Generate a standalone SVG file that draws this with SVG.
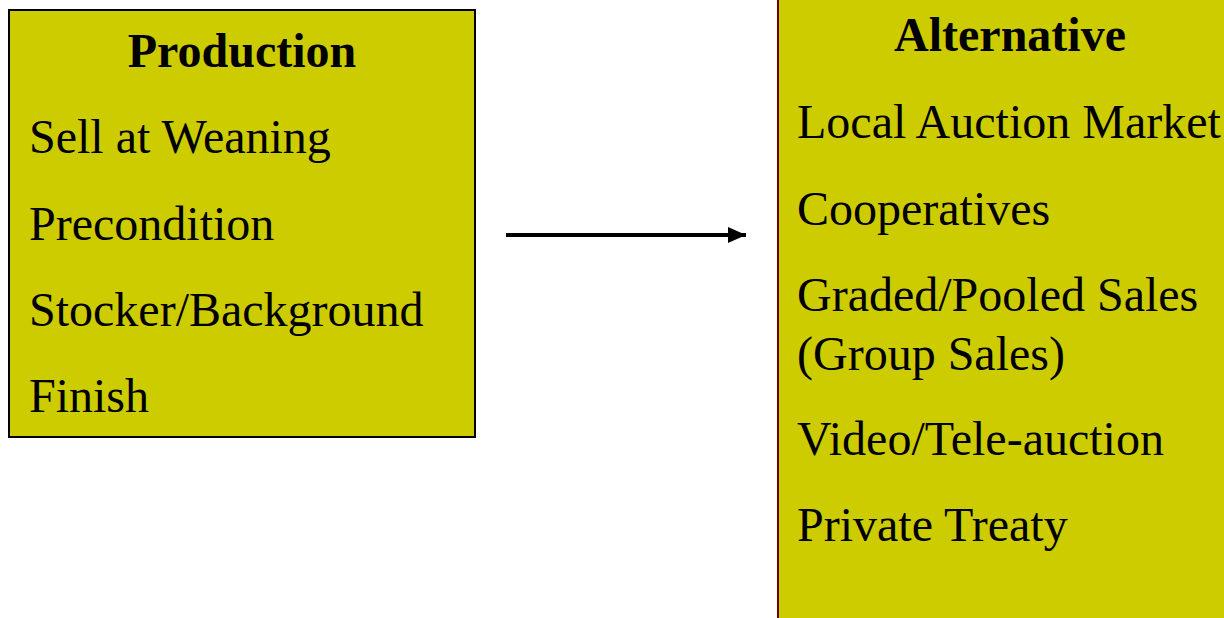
<svg xmlns="http://www.w3.org/2000/svg" width="1224" height="618" viewBox="0 0 1224 618">
  <style>
    .box { fill: #CCCC00; }
    .t { font-family: "Liberation Serif", "Times New Roman", serif; font-size: 48px; fill: #000; }
    .h { font-weight: bold; text-anchor: middle; }
  </style>
  <defs>
    <marker id="ah" markerUnits="userSpaceOnUse" markerWidth="20" markerHeight="20" refX="18" refY="9" orient="auto">
      <path d="M0,1 L18,9 L0,17 Z" fill="#000"/>
    </marker>
  </defs>
  <rect width="1224" height="618" fill="#fff"/>
  <g id="production">
    <rect class="box" x="9" y="10" width="466" height="427" stroke="#000" stroke-width="2"/>
    <text class="t h" x="242" y="67">Production</text>
    <text class="t" x="29" y="153">Sell at Weaning</text>
    <text class="t" x="29" y="240">Precondition</text>
    <text class="t" x="29" y="326">Stocker/Background</text>
    <text class="t" x="29" y="412">Finish</text>
  </g>
  <g id="alternative">
    <rect class="box" x="778" y="-5" width="460" height="630" stroke="#660000" stroke-width="2"/>
    <text class="t h" x="1010" y="51">Alternative</text>
    <text class="t" x="797" y="138">Local Auction Market</text>
    <text class="t" x="797" y="225">Cooperatives</text>
    <text class="t" x="797" y="311">Graded/Pooled Sales</text>
    <text class="t" x="797" y="370">(Group Sales)</text>
    <text class="t" x="797" y="455">Video/Tele-auction</text>
    <text class="t" x="797" y="541">Private Treaty</text>
  </g>
  <g id="connectors">
    <line x1="506" y1="235" x2="746" y2="235" stroke="#000" stroke-width="4" marker-end="url(#ah)"/>
  </g>
</svg>
